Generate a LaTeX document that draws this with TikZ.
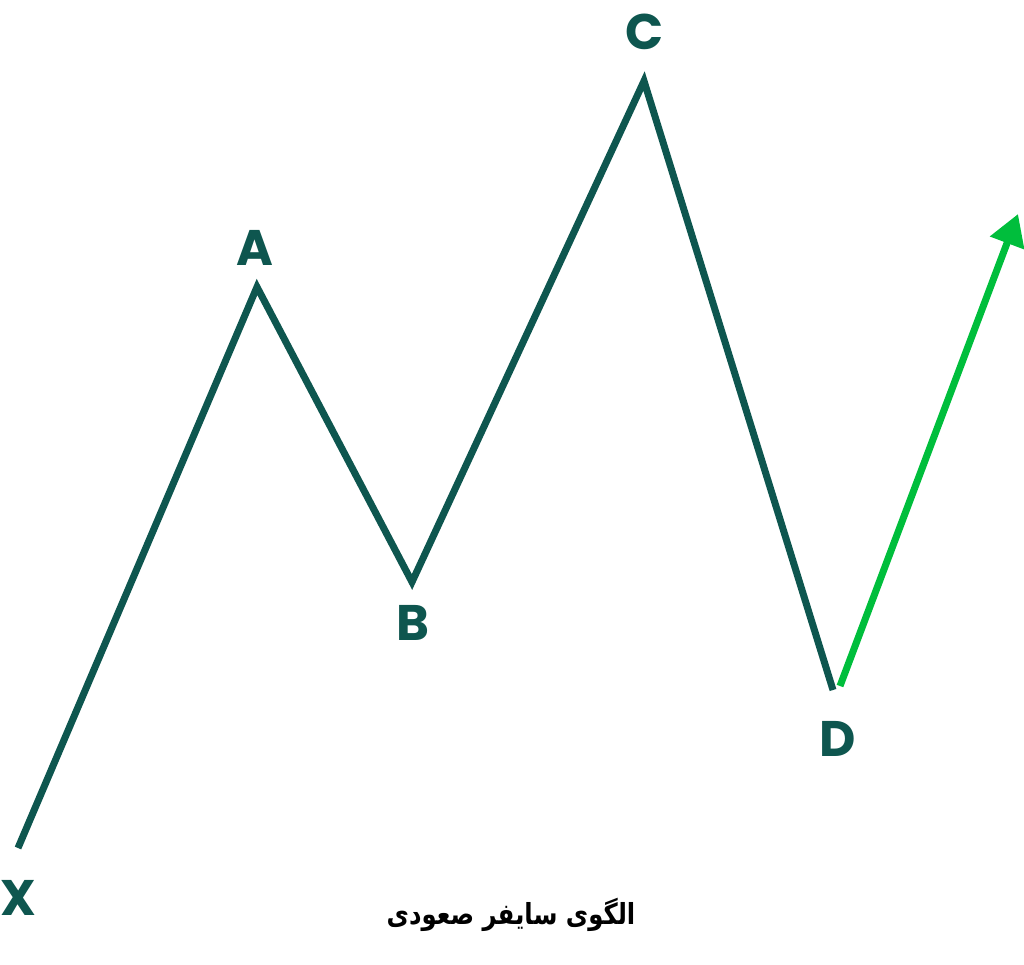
\documentclass[tikz,border=0pt]{standalone}
\usepackage{fontspec}
\usetikzlibrary{arrows.meta,positioning}
\newfontfamily\letterfont{Poppins}
\newfontfamily\arabicfont[Script=Arabic]{DejaVu Sans}
\TeXXeTstate=1
\definecolor{waveteal}{RGB}{14,86,79}
\definecolor{upgreen}{RGB}{0,190,60}

\begin{document}
\begin{tikzpicture}[
    x=1pt,y=-1pt,
    >={Triangle[length=31pt,width=35pt]},
    leg/.style={line width=7pt,draw=waveteal},
    lbl/.style={font=\letterfont\bfseries\fontsize{50}{60}\selectfont,text=waveteal,inner sep=0pt}]
    \useasboundingbox (0,0) rectangle (1024,964);
    \coordinate (X) at (18,848);
    \coordinate (A) at (257,287);
    \coordinate (B) at (412,582);
    \coordinate (C) at (644,81);
    \coordinate (D) at (833,690);
    \coordinate (Dg) at (840,686);
    \coordinate (E) at (1018,214);

    \node[lbl] (lX) at (18,898) {X};
    \node[lbl] (lA) at (255,248) {A};
    \node[lbl] (lB) at (413,623) {B};
    \node[lbl] (lC) at (645,32) {C};
    \node[lbl] (lD) at (838,739) {D};

    \draw[leg] (X) -- (A) -- (B) -- (C) -- (D);
    \draw[->,line width=7pt,draw=upgreen,fill=upgreen] (Dg) -- (E);

    \node[font=\arabicfont\bfseries\fontsize{29}{34}\selectfont,xscale=0.84] (title) at (511,915) {\beginR الگوی سایفر صعودی\endR};
\end{tikzpicture}
\end{document}
